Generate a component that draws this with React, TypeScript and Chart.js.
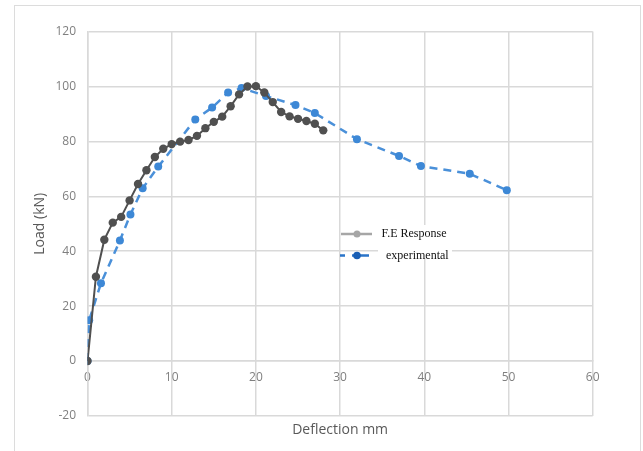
import React, { useEffect, useRef } from 'react';
import { Chart, registerables } from 'chart.js';

Chart.register(...registerables);

// ---- Data ----
const feDeflection = [0, 1, 2, 3, 4, 5, 6, 7, 8, 9, 10, 11, 12, 13, 14, 15, 16, 17, 18, 19, 20, 21, 22, 23, 24, 25, 26, 27, 28];
const feLoad = [0, 30.7, 44.2, 50.4, 52.5, 58.5, 64.5, 69.5, 74.3, 77.3, 79.0, 79.9, 80.5, 82.0, 84.8, 87.1, 89.0, 92.8, 97.1, 100.0, 100.1, 97.8, 94.3, 90.7, 89.1, 88.2, 87.4, 86.4, 84.0];

const expDeflection = [0, 0.2, 1.6, 3.85, 5.1, 6.55, 8.4, 12.8, 14.8, 16.7, 18.3, 21.2, 24.7, 27.0, 32.0, 37.0, 39.6, 45.4, 49.8];
const expLoad = [0, 14.9, 28.3, 43.9, 53.4, 62.9, 70.8, 88.0, 92.3, 97.8, 99.4, 96.5, 93.2, 90.3, 80.8, 74.7, 71.0, 68.2, 62.2];

const seriesNames = ['F.E Response', 'experimental'];
const xAxisTitle = 'Deflection mm';
const yAxisTitle = 'Load (kN)';
const xMin = 0, xMax = 60, xStep = 10;
const yMin = -20, yMax = 120, yStep = 20;

const toPoints = (xs: number[], ys: number[]) => xs.map((x, i) => ({ x, y: ys[i] }));

const GRID = '#d9d9d9';
const TICK = '#7f7f7f';
const TITLE = '#595959';

const insideLegend = {
  id: 'insideLegend',
  afterDraw(chart: any) {
    const { ctx, chartArea } = chart;
    const x0 = chartArea.left + 252.5;
    const y1 = chartArea.top + 202.5;
    const y2 = chartArea.top + 224;
    ctx.save();
    ctx.fillStyle = '#ffffff';
    ctx.fillRect(x0 + 38, y1 - 9, 74, 33);
    // F.E Response
    ctx.strokeStyle = '#a6a6a6';
    ctx.lineWidth = 2.5;
    ctx.beginPath();
    ctx.moveTo(x0 + 1, y1);
    ctx.lineTo(x0 + 32, y1);
    ctx.stroke();
    ctx.fillStyle = '#a6a6a6';
    ctx.beginPath();
    ctx.arc(x0 + 17, y1, 3.5, 0, Math.PI * 2);
    ctx.fill();
    // experimental
    ctx.strokeStyle = '#2a74c9';
    ctx.lineWidth = 2.5;
    ctx.beginPath();
    ctx.moveTo(x0, y2);
    ctx.lineTo(x0 + 5, y2);
    ctx.moveTo(x0 + 12, y2);
    ctx.lineTo(x0 + 29, y2);
    ctx.stroke();
    ctx.fillStyle = '#1a5fb4';
    ctx.beginPath();
    ctx.arc(x0 + 17, y2, 3.8, 0, Math.PI * 2);
    ctx.fill();
    // texts
    ctx.fillStyle = '#111111';
    ctx.font = '12px "Liberation Serif", "Times New Roman", serif';
    ctx.textBaseline = 'middle';
    ctx.textAlign = 'left';
    ctx.fillText(seriesNames[0], x0 + 41.5, y1);
    ctx.fillText(seriesNames[1], x0 + 46, y2);
    ctx.restore();
  },
};

export default function App() {
  const ref = useRef<HTMLCanvasElement>(null);

  useEffect(() => {
    if (!ref.current) return;
    Chart.defaults.font.family = '"Open Sans", sans-serif';
    const chart = new Chart(ref.current, {
      type: 'line',
      data: {
        datasets: [
          {
            label: seriesNames[0],
            data: toPoints(feDeflection, feLoad),
            borderColor: '#505050',
            backgroundColor: '#505050',
            borderWidth: 2,
            pointRadius: 4.2,
            pointBorderWidth: 0,
            pointBackgroundColor: '#505050',
            tension: 0,
          },
          {
            label: seriesNames[1],
            data: toPoints(expDeflection, expLoad),
            borderColor: '#4a90d9',
            backgroundColor: '#3d88d6',
            borderWidth: 2.5,
            borderDash: [8, 6],
            pointRadius: 4,
            pointBorderWidth: 0,
            pointBackgroundColor: '#3d88d6',
            tension: 0,
          },
        ],
      },
      options: {
        responsive: false,
        animation: false,
        layout: { padding: { left: 31.6, right: 50.3, top: 31.5, bottom: 12.6 } },
        plugins: {
          legend: { display: false },
          tooltip: { enabled: false },
          title: {
            display: true,
            position: 'bottom',
            fullSize: false,
            text: xAxisTitle,
            color: TITLE,
            font: { family: '"Open Sans", sans-serif', size: 14, weight: 'normal' },
            padding: { top: 5.6, bottom: 0 },
          },
        },
        scales: {
          x: {
            type: 'linear',
            position: { y: 0 } as any,
            min: xMin,
            max: xMax,
            ticks: { stepSize: xStep, color: TICK, font: { size: 12 }, padding: 9.5 },
            grid: { color: GRID, lineWidth: 1.5, drawTicks: false },
            border: { color: GRID, width: 1.5 },
            afterFit: (s: any) => { s.height = 0; },
          },
          y: {
            type: 'linear',
            position: 'left',
            min: yMin,
            max: yMax,
            ticks: { stepSize: yStep, color: TICK, font: { size: 12 }, padding: 11.5 },
            grid: { color: GRID, lineWidth: 1.5, drawTicks: false },
            border: { color: GRID, width: 1.5 },
            title: {
              display: true,
              text: yAxisTitle,
              color: TITLE,
              font: { size: 14 },
              padding: { top: 0, bottom: 0 },
            },
            afterFit: (s: any) => { s.width = 55.9; },
          },
        },
      },
      plugins: [insideLegend],
    });
    return () => chart.destroy();
  }, []);

  return (
    <div style={{ position: 'absolute', left: 0, top: 0, width: 643, height: 451, overflow: 'hidden', background: '#ffffff' }}>
      <div style={{ position: 'absolute', left: 14, top: 5, width: 627, height: 470, border: '1px solid #dcdcdc', boxSizing: 'border-box' }} />
      <canvas ref={ref} width={643} height={451} style={{ position: 'absolute', left: 0, top: 0, width: 643, height: 451 }} />
    </div>
  );
}
